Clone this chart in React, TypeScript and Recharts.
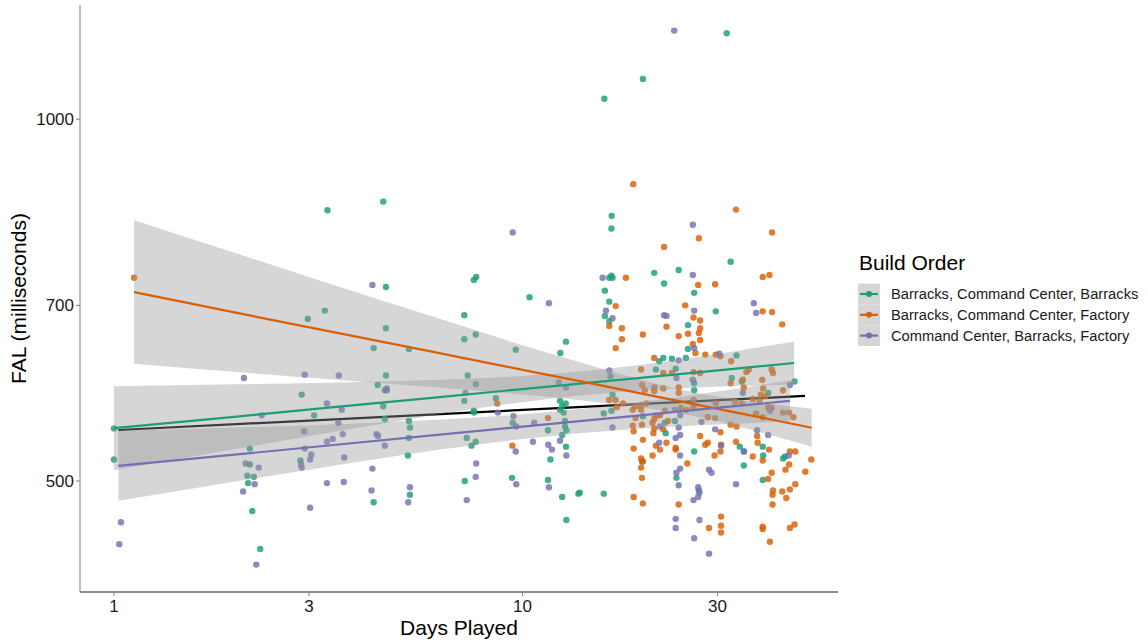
import React from 'react';
import { ComposedChart, Scatter, Line, Area, XAxis, YAxis } from 'recharts';

const FONT = '"Liberation Sans", Arial, sans-serif';
const SERIES = [
  'Barracks, Command Center, Barracks',
  'Barracks, Command Center, Factory',
  'Command Center, Barracks, Factory',
];
const COLORS = ['#1B9E77', '#D95F02', '#7570B3'];
const X_TICKS = [1, 3, 10, 30];
const Y_TICKS = [500, 700, 1000];
const X_DOMAIN = [0.8257, 59.15];
const Y_DOMAIN = [404.2, 1244.6];

// [days played, FAL ms]
const greenPts = [
  [3.33, 840], [2.98, 682], [3.28, 693], [2.88, 590], [1.0, 553], [1.0, 521], [3.09, 567], [2.15, 532],
  [2.86, 520], [2.15, 516], [2.12, 505], [2.2, 504], [2.13, 498], [2.18, 472], [2.28, 439],
  [4.56, 854], [4.63, 725], [7.6, 735], [7.7, 739], [10.4, 711], [7.2, 687], [4.63, 670], [4.32, 645],
  [5.27, 644], [7.2, 656], [7.68, 662], [9.62, 643], [12.77, 653], [12.37, 639], [4.63, 612], [4.42, 601],
  [4.65, 595], [7.34, 612], [7.68, 602], [7.2, 583], [4.56, 577], [4.6, 563], [5.27, 561], [5.3, 554],
  [5.27, 543], [5.24, 525], [7.3, 543], [7.5, 535], [7.68, 539], [7.6, 570], [7.6, 572], [8.6, 586],
  [9.46, 559], [11.54, 551], [11.7, 521], [12.77, 534], [12.5, 546], [12.35, 573], [12.6, 570], [12.7, 561],
  [12.7, 555], [12.8, 551], [12.35, 583], [12.75, 580], [12.5, 577], [5.3, 487], [4.32, 480], [7.22, 500],
  [9.42, 503], [11.54, 501], [12.5, 485], [13.7, 488], [12.8, 464],
  [31.6, 1179], [19.7, 1080], [15.85, 1040], [16.52, 831], [16.5, 811], [32.3, 761], [24.1, 749], [21.0, 745],
  [22.2, 730], [16.3, 738], [16.5, 741], [16.6, 738], [26.3, 717], [15.9, 720], [16.3, 705], [15.9, 686],
  [16.3, 679], [29.7, 692], [25.4, 674],
  [25.4, 644], [21.6, 629], [22.1, 633], [23.2, 632], [25.1, 633], [21.2, 619], [23.7, 620], [16.4, 611],
  [26.3, 603], [26.3, 595], [16.6, 590], [16.5, 572], [15.8, 569], [19.7, 566], [23.6, 561], [22.3, 559],
  [22.4, 548], [19.6, 519], [23.8, 503], [13.8, 489], [15.8, 488],
  [33.4, 636], [32.5, 609], [34.4, 605], [39.9, 592], [46.3, 605], [34.0, 534], [34.8, 529], [38.7, 534],
  [38.8, 525], [43.4, 522], [43.9, 524], [34.8, 515], [26.3, 529], [38.7, 501], [27.0, 491],
];

const orangePts = [
  [1.12, 738], [8.67, 580], [9.44, 535], [11.54, 564],
  [18.66, 883], [33.3, 841], [40.8, 805], [27.0, 796], [22.2, 783], [17.9, 738], [26.9, 728], [29.6, 729],
  [38.7, 739], [40.2, 742], [16.9, 699], [16.3, 673], [17.5, 670], [25.0, 700], [26.2, 684], [27.2, 680],
  [22.5, 672], [27.2, 670], [38.7, 692], [40.8, 691], [43.2, 675],
  [19.7, 662], [17.5, 656], [16.9, 645], [24.1, 660], [25.4, 663], [26.1, 650], [26.5, 639], [21.0, 633],
  [19.5, 619], [23.2, 615], [22.1, 615], [24.1, 598], [24.1, 592], [19.6, 601], [19.9, 595], [21.0, 598],
  [21.0, 594], [22.1, 597], [16.3, 584], [16.9, 584], [17.6, 580], [17.0, 576], [18.6, 573], [18.9, 577],
  [19.5, 578], [19.5, 573], [20.1, 580], [18.9, 564], [21.2, 567], [21.7, 567], [21.0, 563], [22.3, 572],
  [22.7, 561], [24.4, 575], [25.2, 573], [18.6, 556], [18.7, 550], [19.6, 557], [20.8, 559], [21.0, 553],
  [20.9, 548], [22.1, 552], [19.7, 541], [22.5, 538], [21.2, 535], [21.7, 531], [23.7, 533], [23.7, 531],
  [18.7, 532], [20.8, 525], [25.3, 517], [19.5, 522], [19.7, 519], [19.5, 513], [19.6, 503], [18.7, 485],
  [19.7, 479], [24.1, 478],
  [27.0, 664], [27.2, 655], [28.0, 637], [29.7, 637], [30.5, 635], [32.4, 629], [27.2, 615], [26.2, 616],
  [32.3, 603], [34.6, 607], [35.3, 616], [35.8, 619], [34.8, 598], [38.6, 607], [38.8, 597], [38.3, 590],
  [40.7, 619], [41.0, 615], [43.4, 595], [26.2, 584], [26.2, 576], [29.7, 580], [33.1, 582], [34.4, 580],
  [36.6, 585], [38.0, 584], [39.3, 588], [39.9, 576], [40.7, 575], [37.3, 569], [38.7, 565], [43.4, 570],
  [44.9, 570], [46.0, 565], [28.4, 565], [29.6, 564], [32.3, 557], [33.4, 555], [30.5, 549], [27.2, 545],
  [28.0, 536], [28.4, 538], [33.3, 539], [37.5, 545], [37.6, 538], [40.1, 531], [38.7, 520], [36.6, 524],
  [45.1, 529], [46.5, 529], [50.9, 521], [44.9, 516], [44.0, 511], [49.2, 509], [29.5, 525], [30.5, 529],
  [30.6, 536], [40.7, 508], [39.9, 502], [46.5, 497], [45.1, 492], [44.2, 484], [43.2, 490], [41.0, 491],
  [40.9, 487], [40.9, 478], [30.6, 467], [30.6, 459], [30.6, 453], [28.6, 457], [38.7, 458], [38.7, 456],
  [45.1, 457], [46.3, 460], [40.3, 445],
];

const purplePts = [
  [2.08, 609], [2.93, 613], [3.32, 580], [2.3, 567], [2.92, 550], [2.93, 532], [3.32, 539], [3.04, 526],
  [3.02, 521], [2.87, 516], [2.88, 513], [2.1, 517], [2.26, 513], [2.21, 497], [2.07, 490], [3.32, 498],
  [3.02, 475], [1.04, 462], [1.03, 443], [2.23, 426],
  [9.46, 805], [4.29, 728], [11.6, 703], [3.55, 612], [4.6, 595], [4.65, 597], [7.25, 592], [12.26, 604],
  [12.77, 598], [3.61, 573], [3.54, 559], [3.63, 547], [3.43, 542], [4.39, 547], [4.43, 545], [4.6, 535],
  [3.66, 523], [8.7, 570], [9.5, 566], [9.65, 555], [9.62, 529], [10.68, 559], [10.6, 539], [11.56, 536],
  [11.8, 531], [12.8, 525], [12.35, 540], [4.29, 512], [3.65, 499], [4.27, 491], [5.3, 494], [5.25, 480],
  [7.68, 504], [7.7, 517], [7.3, 482], [9.65, 497], [11.6, 494],
  [23.5, 1185], [26.1, 817], [15.7, 738], [26.1, 742], [16.0, 693], [16.6, 683], [22.2, 687], [22.5, 686],
  [26.3, 693], [36.8, 703], [37.3, 690],
  [26.3, 645], [24.1, 630], [16.3, 618], [23.8, 609], [26.1, 607], [16.6, 554], [21.7, 555], [24.1, 554],
  [24.3, 546], [23.7, 543], [21.6, 538], [24.3, 525], [23.6, 573], [24.3, 567], [24.3, 512], [23.8, 508],
  [24.1, 496], [26.2, 482], [26.9, 485], [27.1, 489], [26.9, 494], [23.7, 465], [23.7, 457], [27.1, 464],
  [26.3, 448],
  [30.3, 638], [34.6, 592], [45.1, 601], [40.3, 572], [27.4, 560], [29.6, 552], [30.6, 535], [37.5, 551],
  [39.9, 546], [44.8, 525], [33.3, 497], [28.6, 511], [29.0, 508], [34.8, 529], [28.6, 435],
];

// smooth fits: [days, lower, fit, upper]
const greenBand = [
  [1.0, 510.4, 553.2, 599.6], [2, 531.8, 565.7, 601.7], [3.3, 548.0, 575.1, 603.6], [6, 566.9, 586.4, 606.8],
  [10, 581.5, 596.3, 611.4], [14, 589.2, 602.9, 616.9], [20, 594.8, 609.9, 625.3], [28, 598.3, 616.6, 635.6],
  [46.2, 601.4, 626.8, 653.3],
];
const orangeBand = [
  [1.12, 626, 718, 824], [2, 616, 690, 773], [3.3, 608, 667, 731.5], [6, 598.6, 640.6, 685.5],
  [10, 590, 618.7, 648.6], [14, 583.4, 604.8, 626.7], [20, 575.1, 590.2, 605.7], [28, 563.6, 576.8, 590.2],
  [40, 546.7, 563, 579.8], [51, 533.8, 553.7, 574.3],
];
const purpleBand = [
  [1.025, 481.4, 514.6, 550.2], [2, 499.8, 526.1, 553.9], [3.3, 513.5, 534.9, 557.0], [6, 529.7, 545.6, 561.9],
  [10, 541.8, 554.8, 568.1], [14, 548.2, 561.0, 574.1], [20, 553.2, 567.5, 582.5], [28, 556.7, 574.0, 591.6],
  [45.1, 560.4, 583.0, 606.3],
];
const overallFit = [[1.025, 551.3], [49.1, 588.5]];

const toPts = (a: number[][]) => a.map(([x, y]) => ({ x, y }));
const toBand = (a: number[][]) => a.map(([x, lo, fit, hi]) => ({ x, lo, fit, hi }));

const ptsData = [toPts(greenPts), toPts(orangePts), toPts(purplePts)];
const bandData = [toBand(greenBand), toBand(orangeBand), toBand(purpleBand)];
const overallData = overallFit.map(([x, fit]) => ({ x, fit }));

const dotShape = (color: string) => (props: any) => (
  <circle cx={props.cx} cy={props.cy} r={3.2} fill={color} fillOpacity={0.82} />
);

const BAND_FILL = '#999999';
const W = 1148;
const H = 642;

export default function App() {
  return (
    <div style={{ position: 'absolute', left: 0, top: 0, width: W, height: H, background: '#fff', fontFamily: FONT }}>
      {/* bottom layer: axes, points, overall fit */}
      <div style={{ position: 'absolute', left: 0, top: 0 }}>
        <ComposedChart width={W} height={H} margin={{ top: 5, right: 310, bottom: 0, left: 0 }}>
          <XAxis
            type="number"
            dataKey="x"
            scale="log"
            domain={X_DOMAIN}
            allowDataOverflow
            ticks={X_TICKS}
            interval={0}
            height={50}
            tickSize={4}
            tickMargin={4}
            axisLine={{ stroke: '#1a1a1a', strokeWidth: 1.2 }}
            tickLine={{ stroke: '#7f7f7f' }}
            tick={{ fill: '#1a1a1a', fontSize: 17, fontFamily: FONT }}
          />
          <YAxis
            type="number"
            scale="log"
            domain={Y_DOMAIN}
            allowDataOverflow
            ticks={Y_TICKS}
            interval={0}
            width={80}
            tickSize={4}
            tickMargin={2}
            axisLine={{ stroke: '#7f7f7f' }}
            tickLine={{ stroke: '#7f7f7f' }}
            tick={{ fill: '#1a1a1a', fontSize: 17, fontFamily: FONT }}
          />
          {ptsData.map((d, i) => (
            <Scatter
              key={'s' + i}
              name={SERIES[i]}
              data={d}
              dataKey="y"
              shape={dotShape(COLORS[i])}
              isAnimationActive={false}
            />
          ))}
          <Line
            data={overallData}
            dataKey="fit"
            stroke="#000000"
            strokeWidth={2.2}
            dot={false}
            activeDot={false}
            isAnimationActive={false}
          />
        </ComposedChart>
      </div>
      {/* top layer: confidence bands and group fits */}
      <div style={{ position: 'absolute', left: 0, top: 0, pointerEvents: 'none' }}>
        <ComposedChart width={W} height={H} margin={{ top: 5, right: 310, bottom: 50, left: 80 }}>
          <XAxis hide type="number" dataKey="x" scale="log" domain={X_DOMAIN} allowDataOverflow />
          <YAxis hide type="number" scale="log" domain={Y_DOMAIN} allowDataOverflow />
          {bandData.map((d, i) => (
            <Area
              key={'a' + i}
              data={d}
              dataKey={(r: any) => [r.lo, r.hi]}
              type="monotone"
              stroke="none"
              fill={BAND_FILL}
              fillOpacity={0.4}
              dot={false}
              activeDot={false}
              isAnimationActive={false}
            />
          ))}
          {bandData.map((d, i) => (
            <Line
              key={'l' + i}
              data={d}
              dataKey="fit"
              stroke={COLORS[i]}
              strokeWidth={2.2}
              dot={false}
              activeDot={false}
              isAnimationActive={false}
            />
          ))}
        </ComposedChart>
      </div>
      <svg width={W} height={H} style={{ position: 'absolute', left: 0, top: 0, pointerEvents: 'none' }}>
        <text x={459} y={635} textAnchor="middle" fontSize={21} fill="#000" fontFamily={FONT}>Days Played</text>
        <text transform="translate(26,298.5) rotate(-90)" textAnchor="middle" fontSize={21} fill="#000" fontFamily={FONT}>
          FAL (milliseconds)
        </text>
        <text x={859} y={270} fontSize={21} fill="#000" fontFamily={FONT}>Build Order</text>
        {SERIES.map((s, i) => {
          const cy = 294 + i * 20.8;
          return (
            <g key={s}>
              <rect x={858} y={cy - 10.4} width={22} height={20.8} fill="#d6d6d6" />
              <line x1={860} x2={878} y1={cy} y2={cy} stroke={COLORS[i]} strokeWidth={2.2} />
              <circle cx={869} cy={cy} r={3} fill={COLORS[i]} />
              <text x={891} y={cy + 5.3} fontSize={14.7} fill="#1a1a1a" fontFamily={FONT}>{s}</text>
            </g>
          );
        })}
      </svg>
    </div>
  );
}
